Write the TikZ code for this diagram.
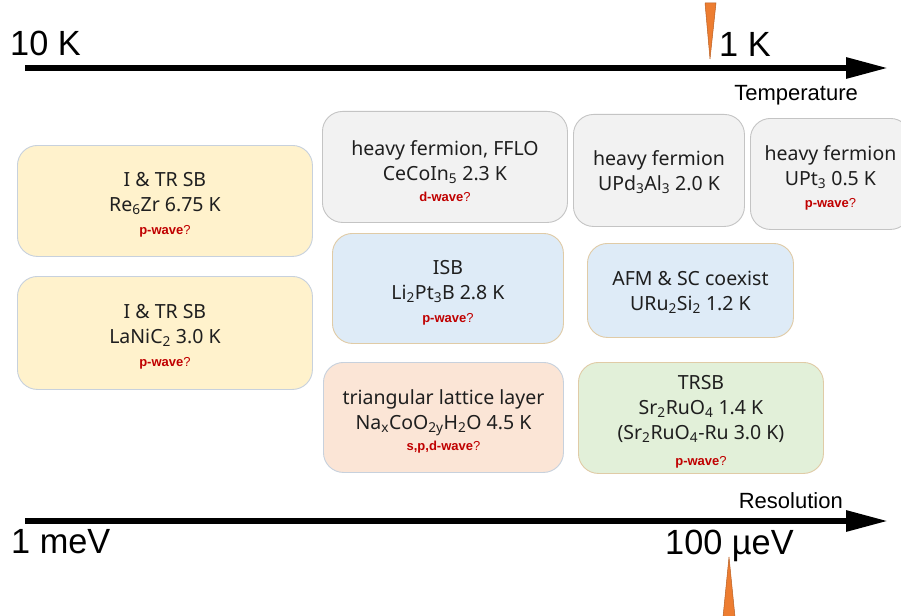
\documentclass[tikz,border=0pt]{standalone}
\usepackage{fontspec}
\usepackage{graphicx}
\setmainfont{Liberation Sans}
\newfontfamily\panelfont{Noto Sans}
\usetikzlibrary{arrows.meta}

\definecolor{fillyellow}{HTML}{FFF2CC}
\definecolor{fillgray}{HTML}{F2F2F2}
\definecolor{fillblue}{HTML}{DEEBF7}
\definecolor{fillpeach}{HTML}{FBE5D6}
\definecolor{fillgreen}{HTML}{E2F0D9}
\definecolor{edgecool}{HTML}{C7D1DD}
\definecolor{edgegray}{HTML}{C4C4C4}
\definecolor{edgewarm}{HTML}{E0CBA6}
\definecolor{wavered}{HTML}{C00000}
\definecolor{markorange}{HTML}{ED7D31}
\definecolor{markedge}{HTML}{B85F22}

% red pairing-symmetry tag: bold name followed by a plain question mark
\newcommand\wavetag[1]{{\normalfont\fontsize{13}{15}\selectfont\color{wavered}\textbf{#1}?}}
% big axis labels, slightly condensed
\newcommand\axislabel[1]{\scalebox{0.98}[1]{\fontsize{35}{40}\selectfont #1}}

\tikzset{
  panel/.style={draw, rounded corners=20pt, line width=0.9pt, anchor=north west,
    inner sep=0pt},
  yellowpanel/.style={panel, fill=fillyellow, draw=edgecool},
  graypanel/.style={panel, fill=fillgray, draw=edgegray},
  bluepanel/.style={panel, fill=fillblue, draw=edgewarm},
  peachpanel/.style={panel, fill=fillpeach, draw=edgecool},
  greenpanel/.style={panel, fill=fillgreen, draw=edgewarm},
  paneltext/.style={inner sep=0pt, align=center, text=black!88,
    font=\panelfont\fontsize{19.5}{25}\selectfont},
  axis/.style={line width=6pt, -{Triangle[length=42pt,width=20pt]}},
  marker/.style={fill=markorange, draw=markedge, line width=0.5pt, line join=round},
  biglabel/.style={inner sep=0pt, anchor=base west},
  axisname/.style={inner sep=0pt, anchor=base east, font=\fontsize{22}{26}\selectfont}
}

\begin{document}
\begin{tikzpicture}[x=1pt, y=-1pt]
\clip (0,0) rectangle (901,615);
\fill[white] (0,0) rectangle (901,615);

% temperature axis
\coordinate (tstart) at (25,68);
\coordinate (tend) at (888,68);
\draw[axis] (tstart) -- (tend);
\node[biglabel] (tenK) at (10,56) {\axislabel{10 K}};
\node[biglabel] (oneK) at (719,57) {\axislabel{1 K}};
\node[axisname] (tname) at (858,100) {Temperature};
\draw[marker] (705,3) -- (716,3) -- (710,59) -- cycle;

% resolution axis
\coordinate (rstart) at (25,521);
\coordinate (rend) at (888,521);
\draw[axis] (rstart) -- (rend);
\node[biglabel] (onemeV) at (11,553) {\axislabel{1 meV}};
\node[biglabel] (hundredueV) at (665,554) {\axislabel{100 µeV}};
\node[axisname] (rname) at (843,508) {Resolution};
\draw[marker] (729,557) -- (735,617) -- (723,617) -- cycle;

% left column
\node[yellowpanel, minimum width=295pt, minimum height=111pt] (rezr) at (17,145) {};
\node[paneltext, yshift=-4pt] (rezr-t) at (rezr.center)
  {I \& TR SB\\Re\textsubscript{6}Zr 6.75 K\\[-2pt]\wavetag{p-wave}};
\node[yellowpanel, minimum width=295pt, minimum height=113pt] (lanic) at (17,276) {};
\node[paneltext, yshift=-4pt] (lanic-t) at (lanic.center)
  {I \& TR SB\\LaNiC\textsubscript{2} 3.0 K\\[-2pt]\wavetag{p-wave}};

% top row: heavy fermions
\node[graypanel, minimum width=245pt, minimum height=111pt] (cecoin) at (322,111) {};
\node[paneltext, yshift=-4pt] (cecoin-t) at (cecoin.center)
  {heavy fermion, FFLO\\CeCoIn\textsubscript{5} 2.3 K\\[-4pt]\wavetag{d-wave}};
\node[graypanel, minimum width=171pt, minimum height=112pt] (updal) at (573,114) {};
\node[paneltext, yshift=-2pt] (updal-t) at (updal.center)
  {heavy fermion\\UPd\textsubscript{3}Al\textsubscript{3} 2.0 K};
\node[graypanel, minimum width=160pt, minimum height=111pt] (upt) at (750,118) {};
\node[paneltext, yshift=-4pt] (upt-t) at (upt.center)
  {heavy fermion\\UPt\textsubscript{3} 0.5 K\\[-3pt]\wavetag{p-wave}};

% middle row
\node[bluepanel, minimum width=231pt, minimum height=110pt] (lipt) at (332,233) {};
\node[paneltext, yshift=-4pt] (lipt-t) at (lipt.center)
  {ISB\\Li\textsubscript{2}Pt\textsubscript{3}B 2.8 K\\[-2pt]\wavetag{p-wave}};
\node[bluepanel, minimum width=206pt, minimum height=94pt] (uru) at (587,243) {};
\node[paneltext, yshift=-2pt] (uru-t) at (uru.center)
  {AFM \& SC coexist\\URu\textsubscript{2}Si\textsubscript{2} 1.2 K};

% bottom row
\node[peachpanel, minimum width=240pt, minimum height=110pt] (nacoo) at (323,362) {};
\node[paneltext, yshift=-4pt] (nacoo-t) at (nacoo.center)
  {triangular lattice layer\\Na\textsubscript{x}CoO\textsubscript{2y}H\textsubscript{2}O 4.5 K\\[-4pt]\wavetag{s,p,d-wave}};
\node[greenpanel, minimum width=245pt, minimum height=111pt] (srru) at (578,362) {};
\node[paneltext, yshift=-4pt] (srru-t) at (srru.center)
  {TRSB\\Sr\textsubscript{2}RuO\textsubscript{4} 1.4 K\\(Sr\textsubscript{2}RuO\textsubscript{4}-Ru 3.0 K)\\[1pt]\wavetag{p-wave}};
\end{tikzpicture}
\end{document}
